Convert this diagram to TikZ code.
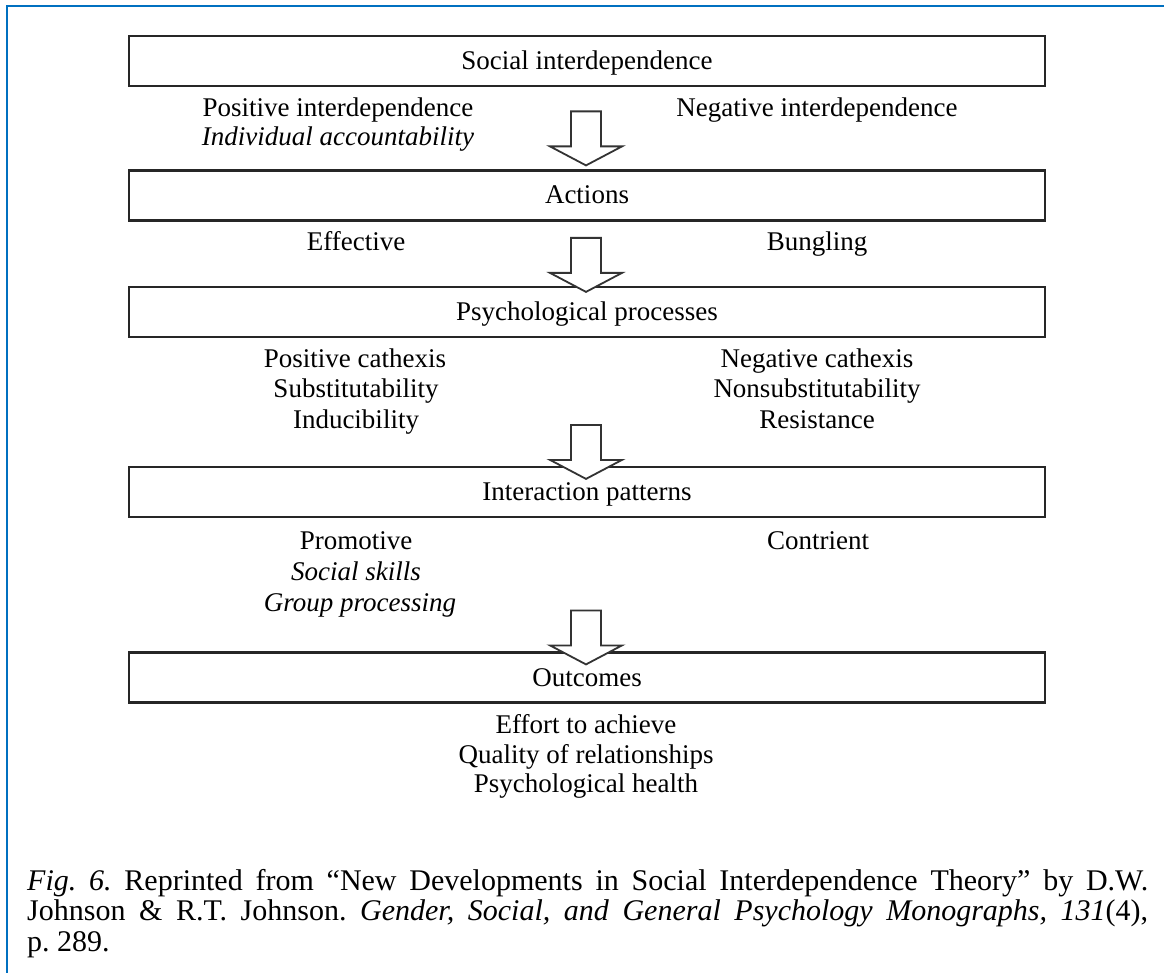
\documentclass[tikz,border=0pt]{standalone}
\usepackage{fontspec}
\setmainfont{Liberation Serif}
\usetikzlibrary{calc}
\definecolor{frameblue}{RGB}{0,112,192}
\newcommand\diaglbl{\fontsize{27}{31}\selectfont}
\newcommand\capfont{\fontsize{30}{30.5}\selectfont\frenchspacing}
\begin{document}
\begin{tikzpicture}[x=1pt,y=-1pt,
  box/.style={draw=black!85, line width=2.2pt, minimum width=916pt, minimum height=50pt,
    inner sep=0pt, text height=19pt, text depth=2pt, font=\diaglbl},
  lbl/.style={font=\diaglbl, anchor=base, inner sep=0pt},
  ilbl/.style={font=\diaglbl\itshape, anchor=base, inner sep=0pt},
  blockarrow/.style={draw=black!80, line width=1.8pt, fill=white, line join=miter},
  downarrow/.pic={\path[blockarrow] (-15,-54) -- (-15,-19) -- (-36,-19) -- (0,0)
      -- (36,-19) -- (15,-19) -- (15,-54) -- cycle;}
]
\useasboundingbox (0,0) rectangle (1164,973);
\fill[white] (0,0) rectangle (1164,973);
% frame
\coordinate (fbl) at (7,973);
\coordinate (ftl) at (7,6);
\coordinate (ftr) at (1164,6);
\draw[frameblue, line width=2.6pt] (fbl) -- (ftl) -- (ftr);

% boxes
\node[box] (b1) at (587,61) {Social interdependence};
\node[box] (b2) at (587,195.5) {Actions};
\node[box] (b3) at (587,312) {Psychological processes};
\node[box] (b4) at (587,492) {Interaction patterns};
\node[box] (b5) at (587,677.5) {Outcomes};

% arrows
\coordinate (t1) at ($(b2.north)+(-1,-4)$);
\coordinate (t2) at ($(b3.north)+(-1,6)$);
\coordinate (t3) at ($(b4.north)+(-1,13)$);
\coordinate (t4) at ($(b5.north)+(-1,13)$);
\pic at (t1) {downarrow};
\pic at (t2) {downarrow};
\pic at (t3) {downarrow};
\pic at (t4) {downarrow};

% labels
\node[lbl] (pi) at (338,116.5) {Positive interdependence};
\node[ilbl] (ia) at (338,145.5) {Individual accountability};
\node[lbl] (ni) at (817,116.5) {Negative interdependence};

\node[lbl] (ef) at (356,251) {Effective};
\node[lbl] (bu) at (817,251) {Bungling};

\node[lbl] (pc) at (355,367.5) {Positive cathexis};
\node[lbl] (su) at (356,397.5) {Substitutability};
\node[lbl] (in) at (356,428) {Inducibility};
\node[lbl] (nc) at (817,367.5) {Negative cathexis};
\node[lbl] (ns) at (817,397.5) {Nonsubstitutability};
\node[lbl] (re) at (817,428) {Resistance};

\node[lbl] (pr) at (356,549) {Promotive};
\node[ilbl] (ss) at (356,580) {Social skills};
\node[ilbl] (gp) at (360,611) {Group processing};
\node[lbl] (co) at (818,549) {Contrient};

\node[lbl] (ea) at (586,733) {Effort to achieve};
\node[lbl] (qr) at (586,763) {Quality of relationships};
\node[lbl] (ph) at (586,792) {Psychological health};

% caption
\node[anchor=base west, inner sep=0pt, text width=1121pt, align=justify, font=\capfont] (cap) at (27,890)
  {\textit{Fig. 6.} Reprinted from “New Developments in Social Interdependence Theory” by D.W.\linebreak
   Johnson \& R.T. Johnson. \textit{Gender, Social, and General Psychology Monographs, 131}(4),\linebreak
   p.~289.};
\end{tikzpicture}
\end{document}
